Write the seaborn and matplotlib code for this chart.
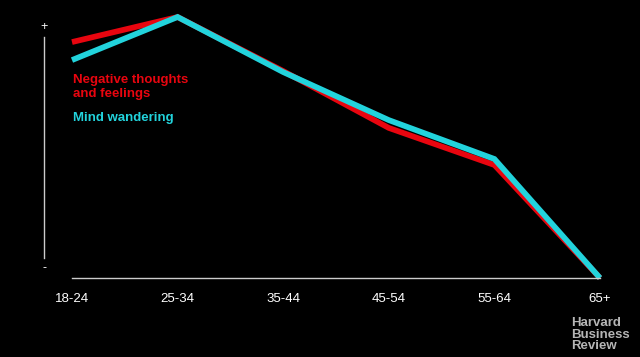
import numpy as np
import pandas as pd
import matplotlib
matplotlib.use('Agg')
import matplotlib.pyplot as plt
import seaborn as sns

# age groups on the x axis
age_groups = ['18-24', '25-34', '35-44', '45-54', '55-64', '65+']
# relative levels (0 = "-", 100 = "+")
negative_thoughts = [90.4, 100.0, 79.3, 57.5, 43.3, 0.0]
mind_wandering = [83.5, 100.0, 78.9, 60.5, 45.6, 0.0]

series_names = ['Negative thoughts\nand feelings', 'Mind wandering']
series_colors = ['#e8050f', '#22d3dc']

df = pd.DataFrame({
    'pos': list(range(len(age_groups))) * 2,
    'value': negative_thoughts + mind_wandering,
    'series': [series_names[0]] * 6 + [series_names[1]] * 6,
})

sns.set_style('dark', {'axes.facecolor': 'black', 'figure.facecolor': 'black'})
plt.rcParams['font.family'] = ['Liberation Sans', 'DejaVu Sans']

fig = plt.figure(figsize=(6.4, 3.57), dpi=100, facecolor='black')
# axes placed so that x=0 sits at 72px and x=5 at 600px
W, H = 640, 357
ax = fig.add_axes([44 / W, (H - 278) / H, (600 - 44) / W, (278 - 10) / H])
ax.set_facecolor('black')

sns.lineplot(data=df, x='pos', y='value', hue='series', palette=series_colors,
             linewidth=4.1, legend=False, ax=ax, clip_on=False)
for ln in ax.get_lines():
    ln.set_solid_joinstyle('miter')
    ln.set_solid_capstyle('butt')

ax.set_xlim(-28 / 105.6, 5)
ax.set_ylim(0, 268 / 261 * 100)

for s in ['top', 'right']:
    ax.spines[s].set_visible(False)
ax.spines['bottom'].set_bounds(0, 5)
ax.spines['bottom'].set_color('#cccccc')
ax.spines['bottom'].set_linewidth(1)
ax.spines['left'].set_bounds(7.7, 92.3)
ax.spines['left'].set_color('#cccccc')
ax.spines['left'].set_linewidth(1)

ax.set_xticks(range(len(age_groups)))
ax.set_xticklabels(age_groups)
ax.set_yticks([])
ax.tick_params(axis='x', direction='in', length=6, width=1, color='#cccccc',
               labelcolor='white', labelsize=9.5, pad=11)
ax.set_xlabel('')
ax.set_ylabel('')
ax.grid(False)

# plus / minus markers on the y axis
ax.text(-28 / 105.6, 96, '+', color='white', ha='center', va='center', fontsize=9,
        clip_on=False)
ax.text(-28 / 105.6, 3.8, '-', color='white', ha='center', va='center', fontsize=9,
        clip_on=False)

# inline legend
ax.text(0.01, 78.0, series_names[0], color=series_colors[0], fontsize=9.5,
        fontweight='bold', ha='left', va='top', linespacing=1.2)
ax.text(0.01, 63.5, series_names[1], color=series_colors[1], fontsize=9.5,
        fontweight='bold', ha='left', va='top')

# logo
fig.text(571 / W, 1 - 317 / H, 'Harvard\nBusiness\nReview', color='#b5b5b5',
         fontsize=9.5, fontweight='bold', ha='left', va='top', linespacing=0.95)

fig.savefig('out.png', dpi=100, facecolor='black')
